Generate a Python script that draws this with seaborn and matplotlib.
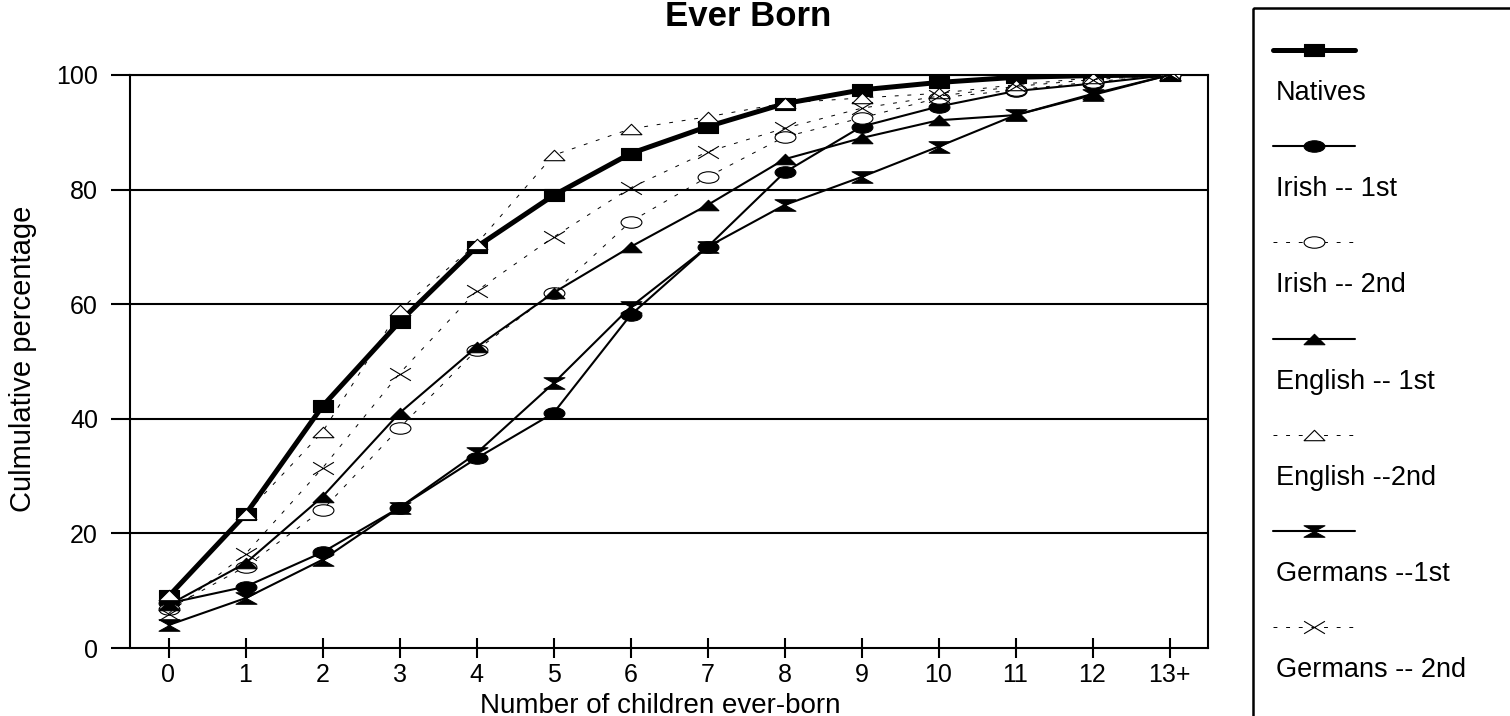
import numpy as np
import matplotlib
matplotlib.use("Agg")
import matplotlib.pyplot as plt
import seaborn as sns
from matplotlib.path import Path
from matplotlib.transforms import Affine2D
from matplotlib.patches import Rectangle

# Data
categories = ["0", "1", "2", "3", "4", "5", "6", "7", "8", "9", "10", "11", "12", "13+"]
series_names = ["Natives", "Irish -- 1st", "Irish -- 2nd", "English -- 1st",
                "English --2nd", "Germans --1st", "Germans -- 2nd"]
natives = [9.0, 23.3, 42.2, 56.9, 70.0, 79.0, 86.3, 91.0, 95.0, 97.4, 98.7, 99.6, 99.9, 100]
irish_1st = [7.8, 10.7, 16.7, 24.5, 33.1, 41.0, 58.1, 70.0, 83.0, 91.0, 94.5, 97.2, 98.5, 100]
irish_2nd = [6.8, 14.2, 24.1, 38.4, 52.0, 62.0, 74.4, 82.2, 89.2, 92.5, 96.0, 97.4, 98.8, 100]
english_1st = [7.5, 14.8, 26.4, 41.0, 52.5, 62.0, 70.0, 77.3, 85.3, 89.0, 92.1, 93.0, 96.7, 100]
english_2nd = [9.3, 23.4, 37.7, 59.0, 70.5, 86.0, 90.6, 92.7, 95.1, 96.0, 96.8, 98.3, 99.5, 100]
germans_1st = [4.0, 8.7, 15.4, 24.5, 34.0, 46.2, 59.5, 70.0, 77.3, 82.2, 87.5, 93.0, 96.5, 100]
germans_2nd = [6.0, 16.4, 31.4, 47.9, 62.3, 71.7, 80.3, 86.6, 90.7, 94.2, 96.3, 98.0, 99.2, 100]
y_ticks = [0, 20, 40, 60, 80, 100]

# Marker shapes (wide and flat, like the original)
rect_m = Path([(-1, -0.55), (1, -0.55), (1, 0.55), (-1, 0.55), (-1, -0.55)],
              [Path.MOVETO, Path.LINETO, Path.LINETO, Path.LINETO, Path.CLOSEPOLY])
ellipse_m = Affine2D().scale(1, 0.55).transform_path(Path.unit_circle())
tri_m = Path([(-1, -0.5), (1, -0.5), (0, 0.5), (-1, -0.5)],
             [Path.MOVETO, Path.LINETO, Path.LINETO, Path.CLOSEPOLY])
hour_m = Path([(-1, 0.55), (1, 0.55), (0, 0), (-1, 0.55),
               (-1, -0.55), (1, -0.55), (0, 0), (-1, -0.55)],
              [Path.MOVETO, Path.LINETO, Path.LINETO, Path.CLOSEPOLY,
               Path.MOVETO, Path.LINETO, Path.LINETO, Path.CLOSEPOLY])
x_m = Path([(-1, -0.6), (1, 0.6), (-1, 0.6), (1, -0.6)],
           [Path.MOVETO, Path.LINETO, Path.MOVETO, Path.LINETO])

dashed = (0, (4, 9))
styles = [
    dict(marker=rect_m, lw=3.6, ls="-", mfc="black", ms=15),
    dict(marker=ellipse_m, lw=1.5, ls="-", mfc="black", ms=15),
    dict(marker=ellipse_m, lw=0.7, ls=dashed, mfc="white", ms=15),
    dict(marker=tri_m, lw=1.5, ls="-", mfc="black", ms=15),
    dict(marker=tri_m, lw=0.7, ls=dashed, mfc="white", ms=15),
    dict(marker=hour_m, lw=1.5, ls="-", mfc="black", ms=15),
    dict(marker=x_m, lw=0.7, ls=dashed, mfc="none", ms=15),
]
all_series = [natives, irish_1st, irish_2nd, english_1st, english_2nd, germans_1st, germans_2nd]

sns.set_theme(style="white")
plt.rcParams["font.family"] = ["Liberation Sans", "DejaVu Sans"]

W, H = 1510, 716
fig = plt.figure(figsize=(W / 100, H / 100), dpi=100)
ax = fig.add_axes([130 / W, 1 - 648 / H, (1208 - 130) / W, (648 - 75) / H])

x = np.arange(len(categories))
for vals, st in zip(all_series, styles):
    sns.lineplot(x=x, y=vals, ax=ax, color="black", linewidth=st["lw"], linestyle=st["ls"],
                 marker=st["marker"], markersize=st["ms"], markerfacecolor=st["mfc"],
                 markeredgecolor="black", markeredgewidth=0.8, zorder=3)

ax.set_xlim(-0.5, len(categories) - 0.5)
ax.set_ylim(0, 100)
ax.set_xticks(x)
ax.set_xticklabels(categories)
ax.set_yticks(y_ticks)
for t in y_ticks[1:]:
    ax.axhline(t, color="black", lw=1.5, zorder=1)
for s in ax.spines.values():
    s.set_color("black")
    s.set_linewidth(1.5)
ax.tick_params(axis="x", direction="inout", length=15, width=1.5, pad=3,
               labelsize=18, colors="black", bottom=True)
ax.tick_params(axis="y", direction="out", length=14, width=1.5, pad=9,
               labelsize=18, colors="black", left=True)

ax.set_xlabel("Number of children ever-born", fontsize=20, color="black")
ax.xaxis.label.set_va("baseline")
ax.xaxis.set_label_coords(0.492, -(713 - 648) / 573)
ax.set_ylabel("Culmulative percentage", fontsize=21, color="black")
ax.yaxis.label.set_va("center")
ax.yaxis.set_label_coords(-0.099, 0.505)

fig.text(748 / W, 1 - 26 / H, "Ever Born", ha="center", va="baseline",
         fontsize=25, fontweight="bold", color="black")

# Legend: sample line above each label, in a box on the right
leg = fig.add_axes([0, 0, 1, 1])
leg.set_xlim(0, W)
leg.set_ylim(H, 0)
leg.axis("off")
leg.patch.set_alpha(0)
leg.add_patch(Rectangle((1253, 8), 320, 800, fill=False, lw=1.8, edgecolor="black"))
for i, (name, st) in enumerate(zip(series_names, styles)):
    ly = 50 + 96.2 * i
    leg.plot([1273, 1355], [ly, ly], color="black", lw=st["lw"], ls=st["ls"])
    leg.plot([1314], [ly], color="black", marker=st["marker"], ms=st["ms"],
             mfc=st["mfc"], mec="black", mew=0.8, ls="none")
    leg.text(1276, ly + 50, name, fontsize=19.5, va="baseline", ha="left", color="black")

fig.savefig("out.png", dpi=100)
